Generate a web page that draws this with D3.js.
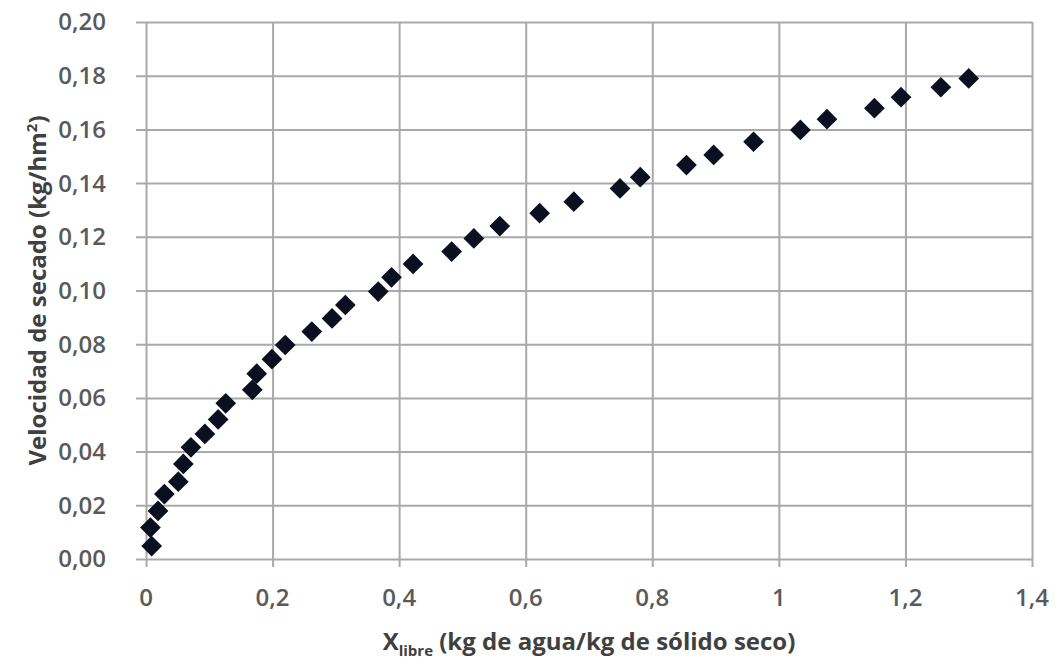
<!DOCTYPE html>
<html>
<head>
<meta charset="utf-8">
<script src="https://cdn.jsdelivr.net/npm/d3@7"></script>
<style>
  body { margin: 0; background: #fff; }
  text { font-family: "Open Sans", "DejaVu Sans", sans-serif; }
</style>
</head>
<body>
<svg width="1059" height="664"></svg>
<script>
// humedad libre (kg agua / kg solido seco)
var xLibre = [0.009, 0.007, 0.019, 0.029, 0.051, 0.059, 0.071, 0.093, 0.114, 0.126,
  0.168, 0.175, 0.199, 0.220, 0.262, 0.294, 0.315, 0.367, 0.388, 0.422,
  0.483, 0.518, 0.559, 0.622, 0.676, 0.749, 0.781, 0.854, 0.897, 0.960,
  1.034, 1.076, 1.151, 1.193, 1.256, 1.300];
// velocidad de secado (kg/hm2)
var velocidad = [0.0048, 0.0117, 0.0179, 0.0242, 0.0288, 0.0354, 0.0416, 0.0466, 0.052, 0.058,
  0.063, 0.069, 0.0744, 0.0797, 0.0847, 0.0896, 0.0946, 0.0996, 0.1049, 0.1099,
  0.1145, 0.1194, 0.124, 0.1288, 0.1331, 0.138, 0.1422, 0.1467, 0.1505, 0.1554,
  0.1598, 0.1638, 0.1679, 0.172, 0.1757, 0.179];

var xTicks = [0, 0.2, 0.4, 0.6, 0.8, 1, 1.2, 1.4];
var yTicks = [0, 0.02, 0.04, 0.06, 0.08, 0.10, 0.12, 0.14, 0.16, 0.18, 0.20];

var svg = d3.select("svg");

// (ojo: "top" es window.top, no se puede usar)
var mLeft = 146, mRight = 1032, mTop = 22, mBottom = 559;

var x = d3.scaleLinear().domain([0, 1.4]).range([mLeft, mRight]);
var y = d3.scaleLinear().domain([0, 0.2]).range([mBottom, mTop]);

var fmtX = function(d) { return d3.format("~g")(d).replace(".", ","); };
var fmtY = function(d) { return d3.format(".2f")(d).replace(".", ","); };

var gridColor = "#a9a9a9";

// horizontal grid + ticks on the left
svg.append("g")
  .attr("transform", "translate(" + mRight + ",0)")
  .call(d3.axisLeft(y).tickValues(yTicks).tickSize(mRight - mLeft + 10).tickFormat(""))
  .call(function(g) {
    g.select(".domain").remove();
    g.selectAll("line").attr("stroke", gridColor).attr("stroke-width", 2);
  });

// vertical grid + ticks below
svg.append("g")
  .attr("transform", "translate(0," + mTop + ")")
  .call(d3.axisBottom(x).tickValues(xTicks).tickSize(mBottom - mTop + 8).tickFormat(""))
  .call(function(g) {
    g.select(".domain").remove();
    g.selectAll("line").attr("stroke", gridColor).attr("stroke-width", 2);
  });

// tick labels
svg.append("g").selectAll("text")
  .data(yTicks)
  .enter().append("text")
  .attr("x", 106)
  .attr("y", function(d) { return y(d); })
  .attr("dy", "0.35em")
  .attr("text-anchor", "end")
  .attr("font-size", 24)
  .attr("font-weight", 600)
  .attr("fill", "#5a5a5a")
  .text(fmtY);

svg.append("g").selectAll("text")
  .data(xTicks)
  .enter().append("text")
  .attr("x", function(d) { return x(d); })
  .attr("y", 598)
  .attr("dy", "0.35em")
  .attr("text-anchor", "middle")
  .attr("font-size", 24)
  .attr("font-weight", 600)
  .attr("fill", "#5a5a5a")
  .text(fmtX);

// puntos
var diamond = d3.symbol().type(d3.symbolSquare).size(215);
svg.append("g").selectAll("path")
  .data(xLibre.map(function(v, i) { return { x: v, y: velocidad[i] }; }))
  .enter().append("path")
  .attr("d", diamond)
  .attr("transform", function(d) {
    return "translate(" + x(d.x) + "," + y(d.y) + ") rotate(45)";
  })
  .attr("fill", "#0b1020");

// titulos
var xt = svg.append("text")
  .attr("x", (mLeft + mRight) / 2)
  .attr("y", 650)
  .attr("text-anchor", "middle")
  .attr("font-size", 24)
  .attr("font-weight", "bold")
  .attr("fill", "#404040");
xt.append("tspan").text("X");
xt.append("tspan").attr("font-size", 15).attr("dy", 6).text("libre");
xt.append("tspan").attr("dy", -6).text(" (kg de agua/kg de sólido seco)");

var yt = svg.append("text")
  .attr("transform", "translate(38," + (mTop + mBottom) / 2 + ") rotate(-90)")
  .attr("text-anchor", "middle")
  .attr("dy", "0.35em")
  .attr("font-size", 24)
  .attr("font-weight", "bold")
  .attr("fill", "#404040");
yt.append("tspan").text("Velocidad de secado (kg/hm");
yt.append("tspan").attr("font-size", 15).attr("dy", -9).text("2");
yt.append("tspan").attr("dy", 9).text(")");
</script>
</body>
</html>
